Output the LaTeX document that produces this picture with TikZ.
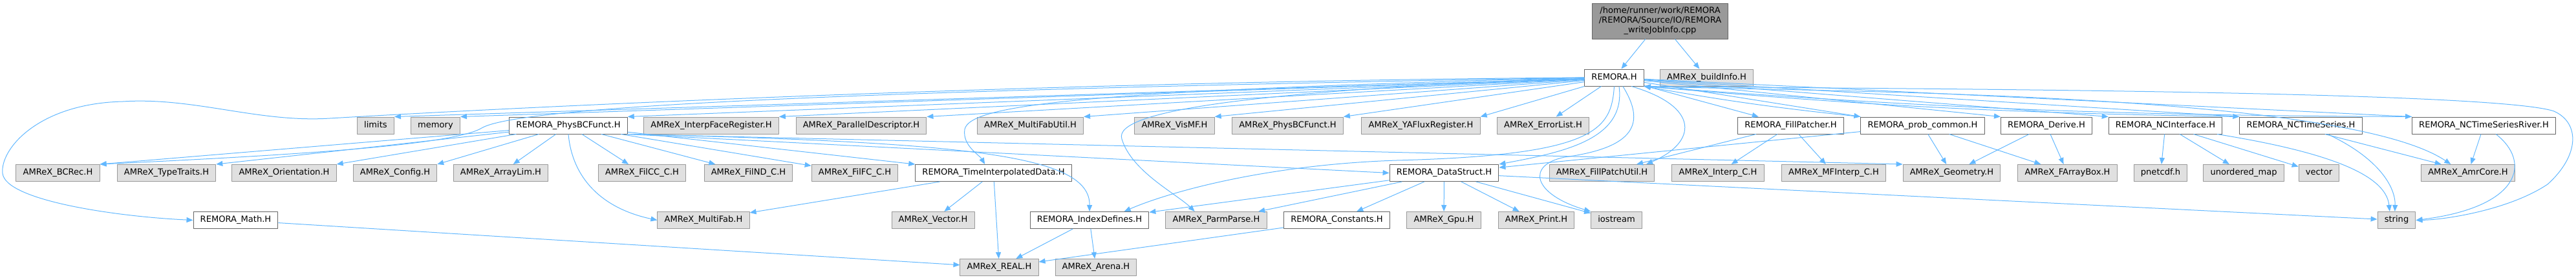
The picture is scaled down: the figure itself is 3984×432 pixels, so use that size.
\documentclass[tikz,border=0pt]{standalone}
\usepackage{fontspec}
\setmainfont{DejaVu Sans}
\usetikzlibrary{arrows.meta}
\definecolor{edgeblue}{HTML}{63B8FF}
\definecolor{amrexfill}{HTML}{E0E0E0}
\definecolor{amrexline}{HTML}{999999}
\definecolor{remoraline}{HTML}{666666}
\definecolor{rootfill}{HTML}{999999}
\begin{document}
\begin{tikzpicture}[x=0.75pt,y=-0.75pt,>={Triangle[length=7.5pt,width=6pt]}, font=\fontsize{9.8pt}{11.25pt}\selectfont, line join=round]
	\tikzset{box style/.style={draw, line width=0.75pt, inner xsep=8pt, inner ysep=0pt, minimum height=19.5pt, text height=7.4pt, text depth=2.4pt},
		remora style/.style={box style, draw=remoraline, fill=white},
		amrex style/.style={box style, draw=amrexline, fill=amrexfill},
		root style/.style={draw=remoraline, fill=rootfill, line width=0.75pt, align=center, inner xsep=8pt, minimum height=41.25pt},
		edge style/.style={->, draw=edgeblue, line width=0.75pt}}
	\def \ya{32.5}\def \yb{120}\def \yc{194}\def \yd{267.5}\def \ye{340.5}\def \yf{413.5}
	\useasboundingbox (0,0) rectangle (3984,432);
	% rows of files
	\node[root style] (root) at (2567.5,\ya) {/home/runner/work/REMORA\\/REMORA/Source/IO/REMORA\\\_writeJobInfo.cpp};
	\node[remora style] (remora) at (2496.5,\yb) {REMORA.H};
	\node[amrex style] (buildinfo) at (2639.5,\yb) {AMReX\_buildInfo.H};
	
	\node[amrex style] (limits) at (581,\yc) {limits};
	\node[amrex style] (memory) at (673.5,\yc) {memory};
	\node[remora style] (physbc) at (879,\yc) {REMORA\_PhysBCFunct.H};
	\node[amrex style] (interpface) at (1100,\yc) {AMReX\_InterpFaceRegister.H};
	\node[amrex style] (paralleldesc) at (1332,\yc) {AMReX\_ParallelDescriptor.H};
	\node[amrex style] (mfutil) at (1593.5,\yc) {AMReX\_MultiFabUtil.H};
	\node[amrex style] (visMF) at (1816.5,\yc) {AMReX\_VisMF.H};
	\node[amrex style] (amrexphysbc) at (1991.5,\yc) {AMReX\_PhysBCFunct.H};
	\node[amrex style] (yaflux) at (2197.5,\yc) {AMReX\_YAFluxRegister.H};
	\node[amrex style] (errorlist) at (2386.5,\yc) {AMReX\_ErrorList.H};
	\node[remora style] (fillpatcher) at (2769.5,\yc) {REMORA\_FillPatcher.H};
	\node[remora style] (probcommon) at (2973.5,\yc) {REMORA\_prob\_common.H};
	\node[remora style] (derive) at (3165,\yc) {REMORA\_Derive.H};
	\node[remora style] (ncinterface) at (3349,\yc) {REMORA\_NCInterface.H};
	\node[remora style] (ncts) at (3558.5,\yc) {REMORA\_NCTimeSeries.H};
	\node[remora style] (nctsriver) at (3841.5,\yc) {REMORA\_NCTimeSeriesRiver.H};
	
	\node[amrex style] (bcrec) at (89.5,\yd) {AMReX\_BCRec.H};
	\node[amrex style] (typetraits) at (257.5,\yd) {AMReX\_TypeTraits.H};
	\node[amrex style] (orientation) at (439.5,\yd) {AMReX\_Orientation.H};
	\node[amrex style] (config) at (611,\yd) {AMReX\_Config.H};
	\node[amrex style] (arraylim) at (774.5,\yd) {AMReX\_ArrayLim.H};
	\node[amrex style] (filcc) at (993,\yd) {AMReX\_FilCC\_C.H};
	\node[amrex style] (filnd) at (1157.5,\yd) {AMReX\_FilND\_C.H};
	\node[amrex style] (filfc) at (1322,\yd) {AMReX\_FilFC\_C.H};
	\node[remora style] (timeinterp) at (1536.5,\yd) {REMORA\_TimeInterpolatedData.H};
	\node[remora style] (datastruct) at (2233.5,\yd) {REMORA\_DataStruct.H};
	\node[amrex style] (fillpatchutil) at (2477.5,\yd) {AMReX\_FillPatchUtil.H};
	\node[amrex style] (interpc) at (2657,\yd) {AMReX\_Interp\_C.H};
	\node[amrex style] (mfinterpc) at (2836,\yd) {AMReX\_MFInterp\_C.H};
	\node[amrex style] (geometry) at (3018.5,\yd) {AMReX\_Geometry.H};
	\node[amrex style] (farraybox) at (3197.5,\yd) {AMReX\_FArrayBox.H};
	\node[amrex style] (pnetcdf) at (3341.5,\yd) {pnetcdf.h};
	\node[amrex style] (unorderedmap) at (3470,\yd) {unordered\_map};
	\node[amrex style] (vector) at (3586.5,\yd) {vector};
	\node[amrex style] (amrcore) at (3817,\yd) {AMReX\_AmrCore.H};
	
	\node[remora style] (math) at (364.5,\ye) {REMORA\_Math.H};
	\node[amrex style] (multifab) at (1088,\ye) {AMReX\_MultiFab.H};
	\node[amrex style] (vectorh) at (1443,\ye) {AMReX\_Vector.H};
	\node[remora style] (indexdefines) at (1685,\ye) {REMORA\_IndexDefines.H};
	\node[amrex style] (parmparse) at (1881,\ye) {AMReX\_ParmParse.H};
	\node[remora style] (constants) at (2067.5,\ye) {REMORA\_Constants.H};
	\node[amrex style] (gpu) at (2233,\ye) {AMReX\_Gpu.H};
	\node[amrex style] (print) at (2376,\ye) {AMReX\_Print.H};
	\node[amrex style] (iostream) at (2500,\ye) {iostream};
	\node[amrex style] (string) at (3706.5,\ye) {string};
	
	\node[amrex style] (real) at (1545.5,\yf) {AMReX\_REAL.H};
	\node[amrex style] (arena) at (1695,\yf) {AMReX\_Arena.H};
	
	% includes of the source file
	\draw[edge style] (root) -- (remora);
	\draw[edge style] (root) -- (buildinfo);
	
	% REMORA.H
	\foreach \t in {limits,memory,physbc,interpface,paralleldesc,mfutil,visMF,amrexphysbc,yaflux}
		\draw[edge style] (remora) -- (\t.north east);
	\draw[edge style] (remora) -- (errorlist);
	\draw[edge style] (remora) -- (fillpatcher);
	\foreach \t in {probcommon,derive,ncinterface,ncts,nctsriver}
		\draw[edge style] (remora) -- (\t.north west);
	\foreach \t in {probcommon,ncts,nctsriver}
		\draw[edge style] (\t.north west) to[bend left=2] (remora.south east);
	\draw[edge style] (remora.west) .. controls (1700,125) and (900,160) .. (510,183)
		.. controls (400,190) and (300,150) .. (190,157)
		.. controls (60,160) and (0,230) .. (4,268)
		.. controls (8,310) and (180,335) .. (math.west);
	\draw[edge style] (remora.west) .. controls (1300,140) and (800,165) .. (745,198)
		.. controls (700,225) and (450,240) .. (bcrec.north east);
	\draw[edge style] (remora.west) .. controls (1700,140) and (1500,160) .. (1492,200)
		.. controls (1488,225) and (1515,240) .. ([xshift=-10pt]timeinterp.north);
	\draw[edge style] (remora.west) .. controls (1950,140) and (1720,170) .. (1735,215)
		.. controls (1750,265) and (1820,300) .. ([xshift=-25pt]parmparse.north);
	\draw[edge style] (remora.south) .. controls (2492,200) and (2470,240) .. (2160,248)
		.. controls (1950,255) and (1800,300) .. ([xshift=-29pt]indexdefines.north east);
	\draw[edge style] ([xshift=5.6pt]remora.south) .. controls (2515,215) and (2420,235) .. (datastruct.north east);
	\draw[edge style] ([xshift=10pt]remora.south) .. controls (2545,190) and (2530,228) .. (2420,243)
		.. controls (2360,255) and (2370,300) .. (iostream.north west);
	\draw[edge style] ([xshift=20pt]remora.south) .. controls (2630,165) and (2625,220) .. ([xshift=-10pt]fillpatchutil.north east);
	\draw[edge style] (remora.south east) .. controls (2800,142) and (3620,140) .. ([xshift=-20pt]amrcore.north);
	\draw[edge style] (remora.south east) .. controls (2800,137) and (3850,138) .. (3950,172)
		.. controls (3990,190) and (3990,240) .. (3940,285)
		.. controls (3880,325) and (3780,340) .. (string.east);
	
	% REMORA_PhysBCFunct.H
	\foreach \t in {bcrec,typetraits,orientation,config}
		\draw[edge style] (physbc) -- (\t.north east);
	\foreach \t in {arraylim,filcc,filnd,filfc,timeinterp}
		\draw[edge style] (physbc) -- (\t);
	\draw[edge style] (physbc.south east) -- (datastruct.west);
	\draw[edge style] (physbc.south east) -- (geometry.north west);
	\draw[edge style] (physbc.south east) .. controls (1500,220) and (1686,240) .. (indexdefines.north);
	\draw[edge style] (physbc.south) .. controls (885,275) and (930,322) .. (multifab.west);
	
	% second level
	\foreach \t in {multifab,vectorh,real}
		\draw[edge style] (timeinterp) -- (\t);
	\foreach \t in {indexdefines,parmparse,constants,gpu,print,iostream}
		\draw[edge style] (datastruct) -- (\t);
	\draw[edge style] (datastruct) -- (string);
	\foreach \t in {fillpatchutil,interpc,mfinterpc}
		\draw[edge style] (fillpatcher) -- (\t);
	\foreach \t in {datastruct,geometry,farraybox}
		\draw[edge style] (probcommon) -- (\t);
	\foreach \t in {geometry,farraybox}
		\draw[edge style] (derive) -- (\t);
	\foreach \t in {pnetcdf,unorderedmap,vector}
		\draw[edge style] (ncinterface) -- (\t);
	\draw[edge style] ([xshift=60pt]ncinterface.south) .. controls (3600,235) and (3690,270) .. ([xshift=-8pt]string.north);
	\draw[edge style] ([xshift=31pt]ncts.south) .. controls (3680,245) and (3705,290) .. ([xshift=-2pt]string.north);
	\draw[edge style] ([xshift=28pt]ncts.south) -- ([xshift=-31pt]amrcore.north);
	\draw[edge style] (nctsriver) -- (amrcore);
	\draw[edge style] ([xshift=14pt]nctsriver.south) .. controls (3915,250) and (3900,320) .. (string.east);
	
	% bottom level
	\draw[edge style] (math) -- (real);
	\draw[edge style] (constants) -- (real);
	\foreach \t in {real,arena}
		\draw[edge style] (indexdefines) -- (\t);
\end{tikzpicture}
\end{document}
